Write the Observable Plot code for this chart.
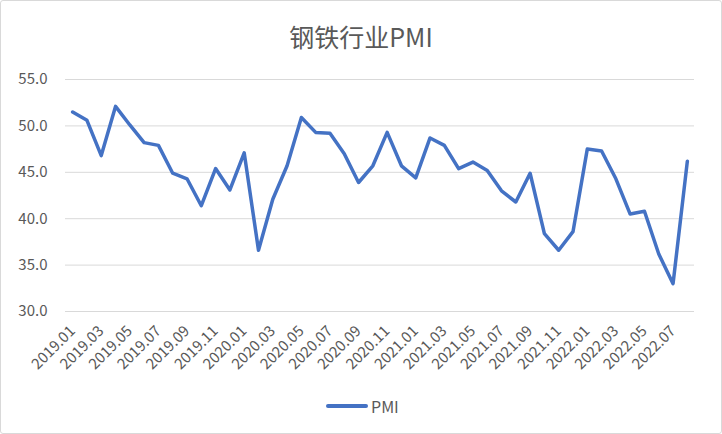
<!DOCTYPE html>
<html><head><meta charset="utf-8">
<script src="https://cdn.jsdelivr.net/npm/d3@7"></script>
<script src="https://cdn.jsdelivr.net/npm/@observablehq/plot@0.6"></script>
<style>
body{margin:0;background:#fff;}
#wrap{position:relative;width:722px;height:434px;overflow:hidden;font-family:"Noto Sans CJK SC","Noto Sans",sans-serif;background:#fff;}
#frame{position:absolute;left:0;top:0;width:720px;height:432px;border:1px solid #d9d9d9;border-radius:3px;pointer-events:none;}
#chart{position:absolute;left:0;top:0;}
#title{position:absolute;top:19px;left:0;width:722px;text-align:center;font-size:25px;line-height:34px;color:#595959;}
#legend{position:absolute;top:395px;left:326px;height:22px;display:flex;align-items:center;font-size:16px;color:#595959;}
#legend .sw{width:42px;height:4px;border-radius:2px;background:#4472C4;margin-right:3px;}
</style></head>
<body>
<div id="wrap">
  <div id="chart"></div>
  <div id="title">钢铁行业PMI</div>
  <div id="legend"><span class="sw"></span><span>PMI</span></div>
  <div id="frame"></div>
</div>
<script>
const months = ["2019.01","2019.02","2019.03","2019.04","2019.05","2019.06","2019.07","2019.08","2019.09","2019.10","2019.11","2019.12",
"2020.01","2020.02","2020.03","2020.04","2020.05","2020.06","2020.07","2020.08","2020.09","2020.10","2020.11","2020.12",
"2021.01","2021.02","2021.03","2021.04","2021.05","2021.06","2021.07","2021.08","2021.09","2021.10","2021.11","2021.12",
"2022.01","2022.02","2022.03","2022.04","2022.05","2022.06","2022.07","2022.08"];
const pmi = [51.5,50.6,46.8,52.1,50.1,48.2,47.9,44.9,44.3,41.4,45.4,43.1,
47.1,36.6,42.1,45.7,50.9,49.3,49.2,47.0,43.9,45.7,49.3,45.7,
44.4,48.7,47.9,45.4,46.1,45.2,43.0,41.8,44.9,38.4,36.6,38.6,
47.5,47.3,44.3,40.5,40.8,36.2,33.0,46.2];
const xTickLabels = ["2019.01","2019.03","2019.05","2019.07","2019.09","2019.11","2020.01","2020.03","2020.05","2020.07","2020.09","2020.11",
"2021.01","2021.03","2021.05","2021.07","2021.09","2021.11","2022.01","2022.03","2022.05","2022.07"];
const yTicks = [30,35,40,45,50,55];

const data = months.map((m,i)=>({month:m, value:pmi[i]}));

const chart = Plot.plot({
  width:722, height:434,
  marginLeft:65, marginRight:28, marginTop:79, marginBottom:123,
  style:{color:"#595959", fontFamily:'"Noto Sans CJK SC","Noto Sans",sans-serif', background:"transparent"},
  x:{type:"point", domain:months, padding:0.5, round:false, label:null},
  y:{domain:[30,55], label:null},
  marks:[
    Plot.gridY(yTicks, {stroke:"#d9d9d9", strokeOpacity:1, strokeWidth:1}),
    Plot.axisY(yTicks, {tickSize:0, tickPadding:18, fontSize:15, tickFormat:d=>d.toFixed(1), label:null}),
    Plot.axisX(xTickLabels, {tickSize:0, tickPadding:17, tickRotate:-45, fontSize:15, label:null}),
    Plot.line(data, {x:"month", y:"value", stroke:"#4472C4", strokeWidth:3.5, strokeLinejoin:"round", strokeLinecap:"round"})
  ]
});
document.getElementById("chart").appendChild(chart);
</script>
</body></html>
